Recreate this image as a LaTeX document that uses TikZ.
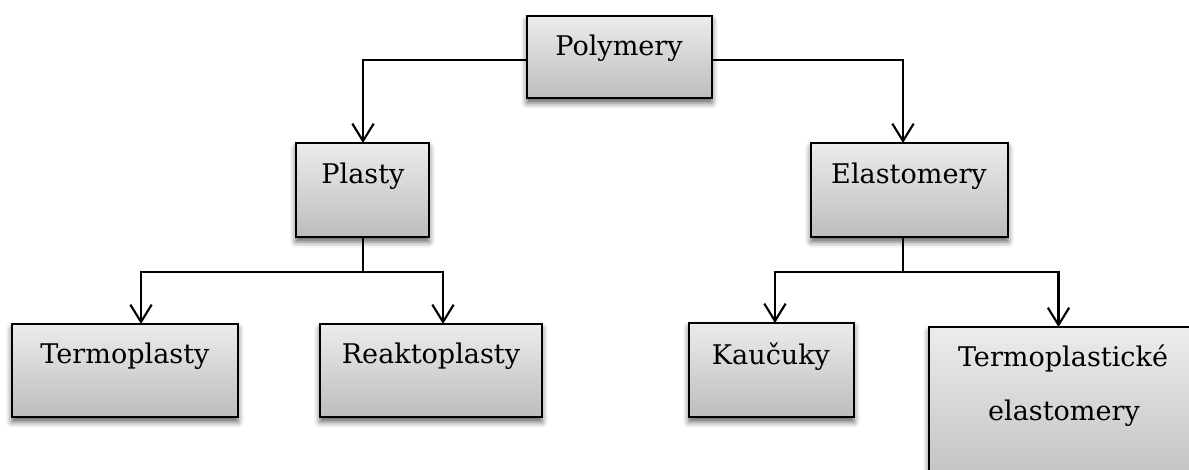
\documentclass[tikz,border=0pt]{standalone}
\usepackage{fontspec}
\setmainfont{DejaVu Serif}
\usetikzlibrary{arrows.meta,fit,shadows.blur,calc}

\tikzset{
  box/.style={draw=black, line width=2.2pt, inner sep=0pt, outer sep=0pt,
    top color=gray!15, bottom color=gray!52,
    blur shadow={shadow xshift=0pt, shadow yshift=-3.5pt,
      shadow blur radius=4.5pt, shadow opacity=65}},
  lbl/.style={anchor=base, inner sep=0pt, font=\fontsize{20.3}{24}\selectfont},
  link/.style={draw=black, line width=1.6pt},
  conn/.style={link, -{Straight Barb[length=13pt, width=16pt, line width=1.6pt]}},
}

\begin{document}
\begin{tikzpicture}[x=0.75pt, y=-0.75pt]
  \useasboundingbox (0,0) rectangle (1189,469);
  \clip (0,0) rectangle (1189,469);

  % boxes
  \node[box, fit={(527,16) (712,98)}]   (poly)   {};
  \node[box, fit={(296,143) (429,237)}] (plasty) {};
  \node[box, fit={(811,143) (1008,237)}] (elast) {};
  \node[box, fit={(12,324) (238,417)}]  (termo)  {};
  \node[box, fit={(320,324) (542,417)}] (reakto) {};
  \node[box, fit={(689,323) (854,417)}] (kauc)   {};
  \node[box, fit={(929,327) (1196,500)}] (tpe)   {};

  % labels
  \node[lbl] (polyT)   at (619,55)  {Polymery};
  \node[lbl] (plastyT) at (363,183) {Plasty};
  \node[lbl] (elastT)  at (909,183) {Elastomery};
  \node[lbl] (termoT)  at (125,363) {Termoplasty};
  \node[lbl] (reaktoT) at (431,363) {Reaktoplasty};
  \node[lbl] (kaucT)   at (771,364) {Kaučuky};
  \node[lbl] (tpeT1)   at (1063,366) {Termoplastické};
  \node[lbl] (tpeT2)   at (1064,420) {elastomery};

  % junction points
  \coordinate (pj) at (363,272);
  \coordinate (ej) at (903,272);

  % connectors
  \draw[conn] ([yshift=-2.25pt]poly.west) -| (pj |- plasty.north);
  \draw[conn] ([yshift=-2.25pt]poly.east) -| (ej |- elast.north);

  \draw[link] (pj |- plasty.south) -- (pj);
  \draw[conn] (pj) -| ([xshift=12pt]termo.north);
  \draw[conn] (pj) -| ([xshift=9pt]reakto.north);

  \draw[link] (ej |- elast.south) -- (ej);
  \draw[conn] (ej) -| ([xshift=2.6pt]kauc.north);
  \draw[conn] (ej) -| ([xshift=-3pt]tpe.north);
\end{tikzpicture}
\end{document}
